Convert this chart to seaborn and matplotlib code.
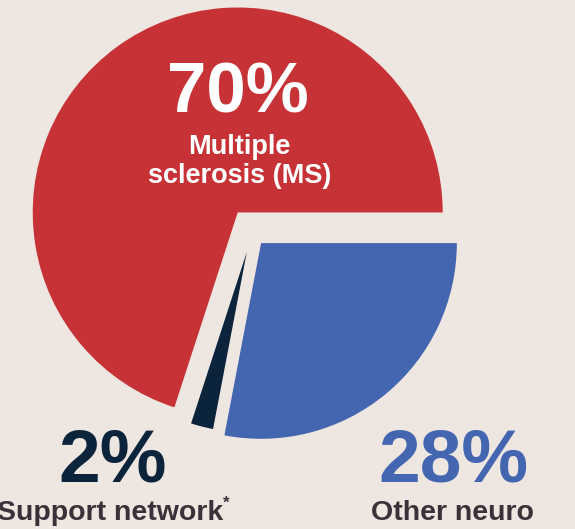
import matplotlib
matplotlib.use("Agg")
import matplotlib.pyplot as plt
import seaborn as sns

# data
labels = ["Multiple\nsclerosis (MS)", "Support network", "Other neuro"]
shares = [70, 2, 28]
pct_labels = ["70%", "2%", "28%"]

# look
bg = "#EEE6E0"
colors = sns.color_palette(["#C63235", "#0B243C", "#4465B0"])
text_dark = "#3B3139"
explode = [0.118, 0.10, 0.07]
radii = [1.0, 0.88, 0.955]

sns.set_theme(style="white")
plt.rcParams["font.family"] = ["Liberation Sans", "DejaVu Sans"]

fig = plt.figure(figsize=(5.75, 5.29), dpi=100, facecolor=bg)
ax = fig.add_axes([0, 0, 1, 1])
ax.set_facecolor(bg)

wedges, _ = ax.pie(shares, colors=colors, startangle=0, counterclock=True,
                   explode=explode, wedgeprops=dict(linewidth=0))
for w, r in zip(wedges, radii):
    w.set_radius(r)

ax.set_xlim(-1.229, 1.576)
ax.set_ylim(-1.449, 1.132)
ax.set_aspect("auto")
ax.axis("off")

# big percentages
ax.text(-0.068, 0.585, pct_labels[0], color="white", fontsize=51,
        fontweight="bold", ha="center", va="baseline")
ax.text(-0.678, -1.215, pct_labels[1], color=colors[1], fontsize=54,
        fontweight="bold", ha="center", va="baseline")
ax.text(0.985, -1.215, pct_labels[2], color=colors[2], fontsize=54,
        fontweight="bold", ha="center", va="baseline")

# category labels
ax.text(-0.06, 0.239, labels[0], color="white", fontsize=19.5,
        fontweight="bold", ha="center", va="baseline", linespacing=1.15)
ax.text(-0.69, -1.405, labels[1], color=text_dark, fontsize=20.5,
        fontweight="bold", ha="center", va="baseline")
ax.text(-0.14, -1.345, "*", color=text_dark, fontsize=12,
        fontweight="bold", ha="left", va="baseline")
ax.text(0.98, -1.405, labels[2], color=text_dark, fontsize=20.5,
        fontweight="bold", ha="center", va="baseline")

fig.savefig("out.png", dpi=100, facecolor=bg)
